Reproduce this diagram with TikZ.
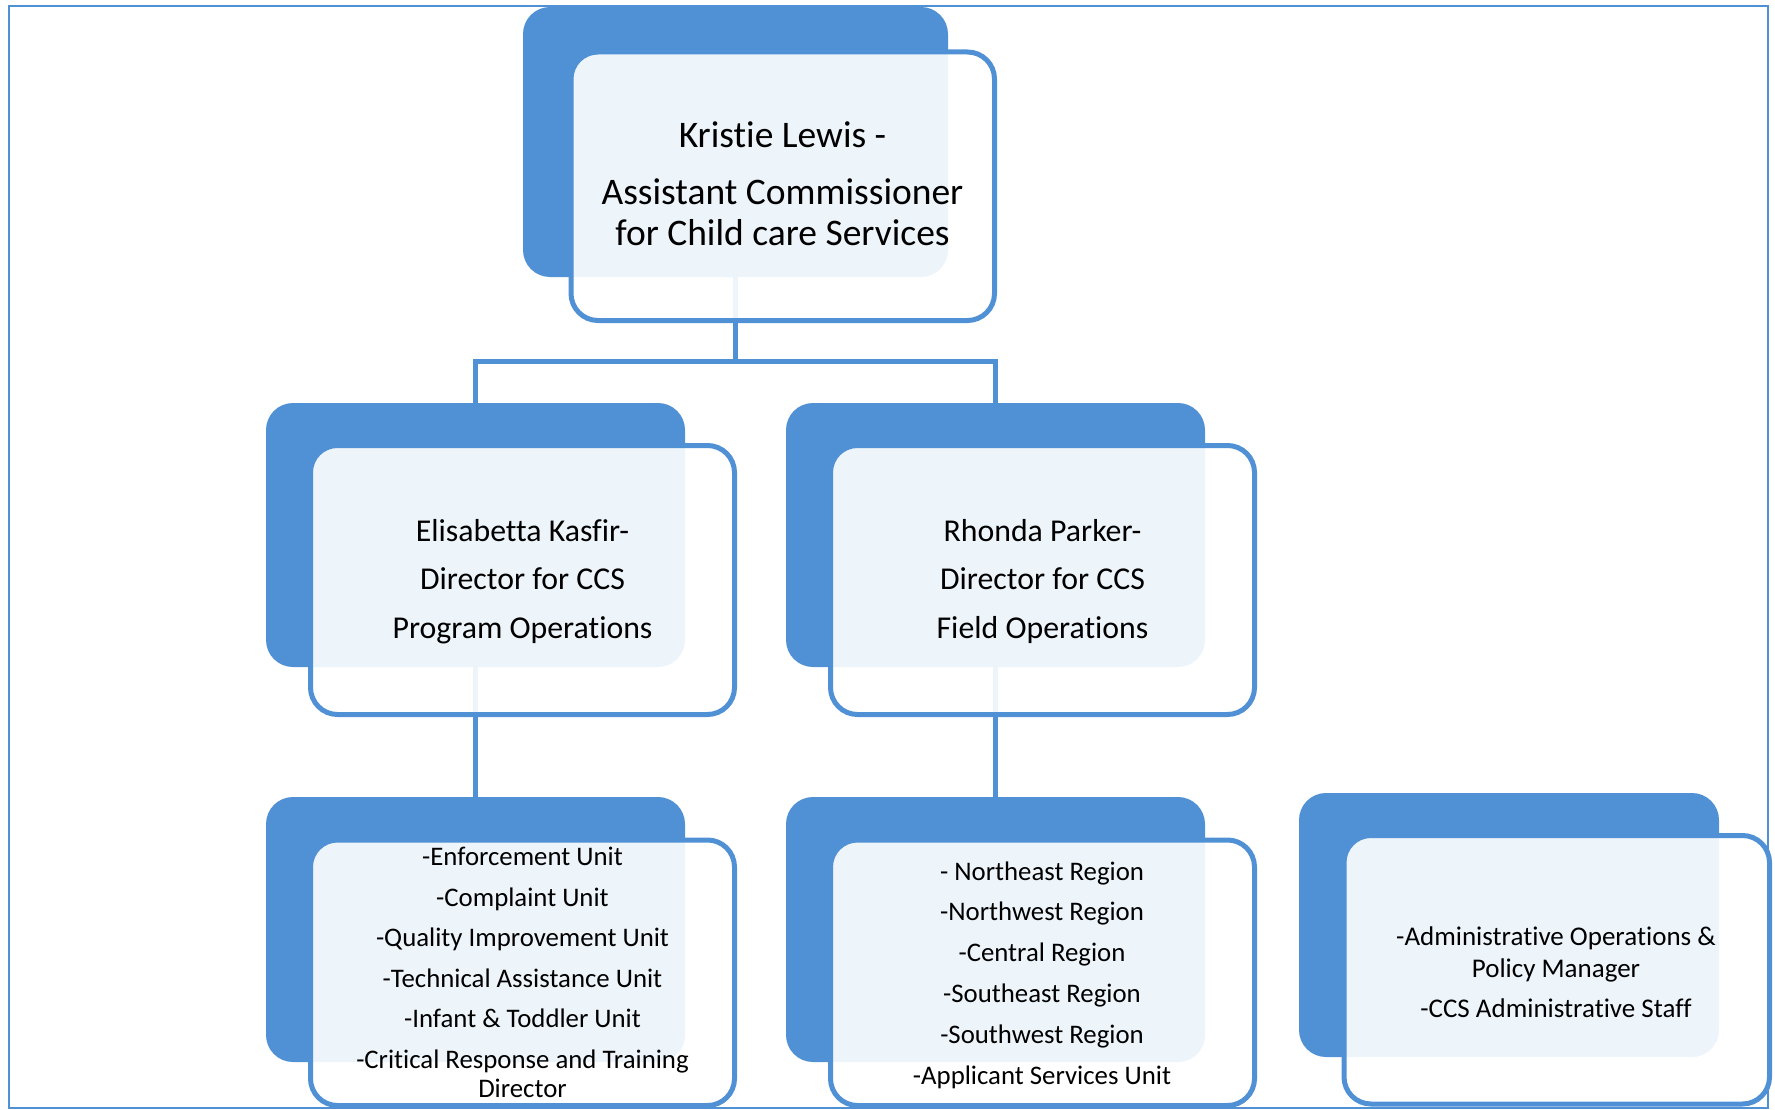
\documentclass[tikz,border=0pt]{standalone}
\usepackage{fontspec}
\setmainfont{Carlito}[Ligatures=NoCommon]
\definecolor{dblue}{RGB}{80,144,213}
\pgfdeclarelayer{connlayer}
\pgfsetlayers{connlayer,main}
\begin{document}
\begin{tikzpicture}[x=1pt,y=-1pt,
  darkbox/.style={rectangle,fill=dblue,draw=none,rounded corners=27pt,inner sep=0pt,minimum width=419pt,minimum height=264pt},
  outbox/.style={rectangle,draw=dblue,line width=5pt,fill=white,fill opacity=0.9,rounded corners=27pt,inner sep=0pt,minimum width=424pt,minimum height=269pt},
  lbl/.style={align=center,anchor=base,inner sep=0pt,text=black},
  link/.style={draw=dblue,line width=5pt},
  frame/.style={draw=dblue,line width=2pt}
]
\useasboundingbox (0,0) rectangle (1775,1110);
\draw[frame] (9,6) rectangle (1768,1108);

% level 0
\node[darkbox,minimum width=425pt,minimum height=270pt] (d0) at (735.5,142) {};
\node[outbox,minimum width=423.5pt,minimum height=268.5pt] (o0) at (782.75,186.25) {};
% level 1
\node[darkbox] (d1) at (475.5,535) {};
\node[outbox] (o1) at (522.5,580) {};
\node[darkbox] (d2) at (995.5,535) {};
\node[outbox] (o2) at (1042.5,580) {};
% level 2
\node[darkbox,minimum height=265pt] (d3) at (475.5,929.5) {};
\node[outbox,minimum height=265.5pt] (o3) at (522.5,972.75) {};
\node[darkbox,minimum height=265pt] (d4) at (995.5,929.5) {};
\node[outbox,minimum height=265.5pt] (o4) at (1042.5,972.75) {};
\node[darkbox,minimum width=420pt] (d5) at (1509,925) {};
\node[outbox,minimum width=425.5pt,minimum height=268.5pt] (o5) at (1556.75,969.75) {};

% texts (base anchor = baseline of last line)
\node[lbl,font=\fontsize{37.5}{40}\selectfont] (t0) at (782.5,245)
  {Kristie Lewis -\\[17pt]Assistant Commissioner\\for Child care Services};
\node[lbl,font=\fontsize{31.8}{48.5}\selectfont] (t1) at (522.5,638)
  {Elisabetta Kasfir-\\Director for CCS\\Program Operations};
\node[lbl,font=\fontsize{31.8}{48.5}\selectfont] (t2) at (1042.5,638)
  {Rhonda Parker-\\Director for CCS\\Field Operations};
\node[lbl,font=\fontsize{26.8}{29}\selectfont] (t3) at (522.5,1097)
  {-Enforcement Unit\\[11.5pt]-Complaint Unit\\[11.5pt]-Quality Improvement Unit\\[11.5pt]-Technical Assistance Unit\\[11.5pt]-Infant \& Toddler Unit\\[11.5pt]-Critical Response and Training\\Director};
\node[lbl,font=\fontsize{26.8}{40.8}\selectfont] (t4) at (1042,1084)
  {- Northeast Region\\-Northwest Region\\-Central Region\\-Southeast Region\\-Southwest Region\\-Applicant Services Unit};
\node[lbl,font=\fontsize{27}{32}\selectfont] (t5) at (1556,1017)
  {-Administrative Operations \&\\Policy Manager\\[8pt]-CCS Administrative Staff};

% connectors (behind boxes)
\coordinate (hb) at (0,361);
\begin{pgfonlayer}{connlayer}
\draw[link] (d0.center) -- (d0.center |- hb) -| (d1.center);
\draw[link] (d0.center |- hb) -| (d2.center);
\draw[link] (d1.center) -- (d3.center);
\draw[link] (d2.center) -- (d4.center);
\end{pgfonlayer}
\end{tikzpicture}
\end{document}
